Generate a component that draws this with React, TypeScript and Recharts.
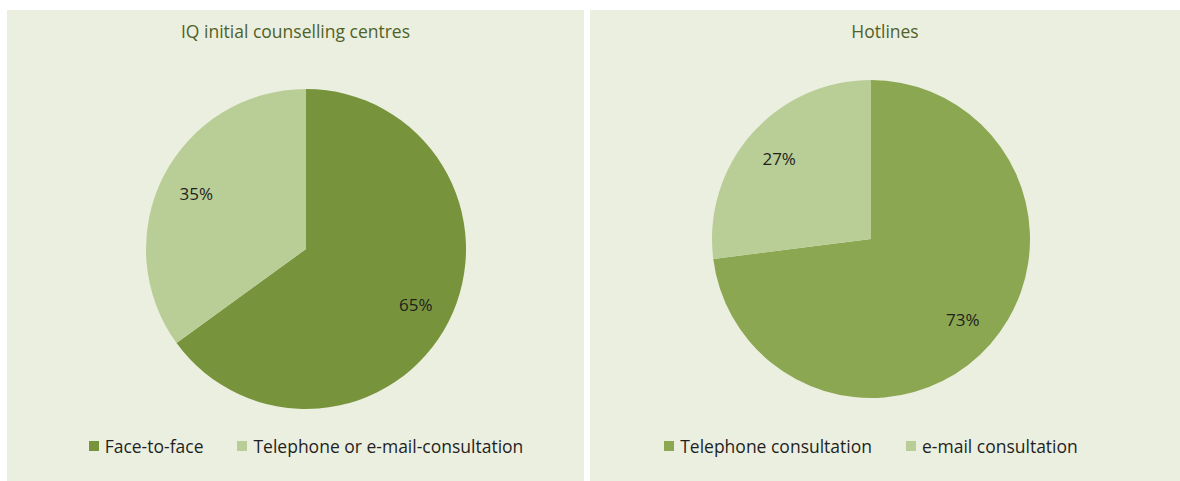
import React from "react";
import { PieChart, Pie, Cell, Legend } from "recharts";

const leftCategories = ["Face-to-face", "Telephone or e-mail-consultation"];
const leftValues = [65, 35];
const leftColors = ["#77933C", "#B9CD96"];
const leftTitle = "IQ initial counselling centres";

const rightCategories = ["Telephone consultation", "e-mail consultation"];
const rightValues = [73, 27];
const rightColors = ["#8BA751", "#B9CD96"];
const rightTitle = "Hotlines";

const FONT = "'Open Sans', 'Liberation Sans', sans-serif";
const BG = "#EBEFDF";
const RAD = Math.PI / 180;

const makeLabel = (labelColor: string) => (props: any) => {
  const { cx, cy, midAngle, outerRadius, value } = props;
  const r = outerRadius * 0.77;
  const x = cx + r * Math.cos(-midAngle * RAD);
  const y = cy + r * Math.sin(-midAngle * RAD);
  return (
    <text
      x={x}
      y={y}
      textAnchor="middle"
      dominantBaseline="central"
      fill={labelColor}
      fontSize={17}
      fontFamily={FONT}
    >
      {`${value}%`}
    </text>
  );
};

const LegendContent = ({ names, colors }: { names: string[]; colors: string[] }) => (
  <div
    style={{
      display: "flex",
      justifyContent: "center",
      alignItems: "center",
      fontFamily: FONT,
      fontSize: 17.5,
      color: "#1F1F1F",
      whiteSpace: "nowrap",
    }}
  >
    {names.map((n, i) => (
      <div
        key={n}
        style={{ display: "flex", alignItems: "center", marginLeft: i === 0 ? 0 : 34 }}
      >
        <span
          style={{ width: 10, height: 10, background: colors[i], display: "inline-block", marginRight: 6 }}
        />
        <span>{n}</span>
      </div>
    ))}
  </div>
);

type PanelProps = {
  left: number;
  width: number;
  title: string;
  categories: string[];
  values: number[];
  colors: string[];
  cx: number;
  cy: number;
  r: number;
};

const Panel = ({ left, width, title, categories, values, colors, cx, cy, r }: PanelProps) => {
  const data = categories.map((c, i) => ({ name: c, value: values[i] }));
  return (
    <div style={{ position: "absolute", left, top: 10, width, height: 471, background: BG }}>
      <div
        style={{
          position: "absolute",
          left: 0,
          top: 9,
          width,
          textAlign: "center",
          fontFamily: FONT,
          fontSize: 17.5,
          color: "#4F6228",
        }}
      >
        {title}
      </div>
      <PieChart
        width={width}
        height={471}
        margin={{ top: 0, right: 0, bottom: 0, left: 0 }}
        style={{ position: "absolute", left: 0, top: 0 }}
      >
        <Pie
          data={data}
          dataKey="value"
          nameKey="name"
          cx={cx}
          cy={cy}
          outerRadius={r}
          startAngle={90}
          endAngle={-270}
          stroke="none"
          isAnimationActive={false}
          labelLine={false}
          label={makeLabel("#1F1F1F")}
        >
          {data.map((d, i) => (
            <Cell key={d.name} fill={colors[i]} />
          ))}
        </Pie>
        <Legend
          wrapperStyle={{ left: 0, width: cx * 2, top: 424, bottom: "auto" }}
          content={() => <LegendContent names={categories} colors={colors} />}
        />
      </PieChart>
    </div>
  );
};

export default function App() {
  return (
    <div style={{ position: "absolute", left: 0, top: 0, width: 1180, height: 481, background: "#FFFFFF", overflow: "hidden" }}>
      <Panel
        left={7}
        width={577}
        title={leftTitle}
        categories={leftCategories}
        values={leftValues}
        colors={leftColors}
        cx={299}
        cy={239}
        r={160}
      />
      <Panel
        left={590}
        width={590}
        title={rightTitle}
        categories={rightCategories}
        values={rightValues}
        colors={rightColors}
        cx={281}
        cy={229}
        r={159}
      />
    </div>
  );
}
